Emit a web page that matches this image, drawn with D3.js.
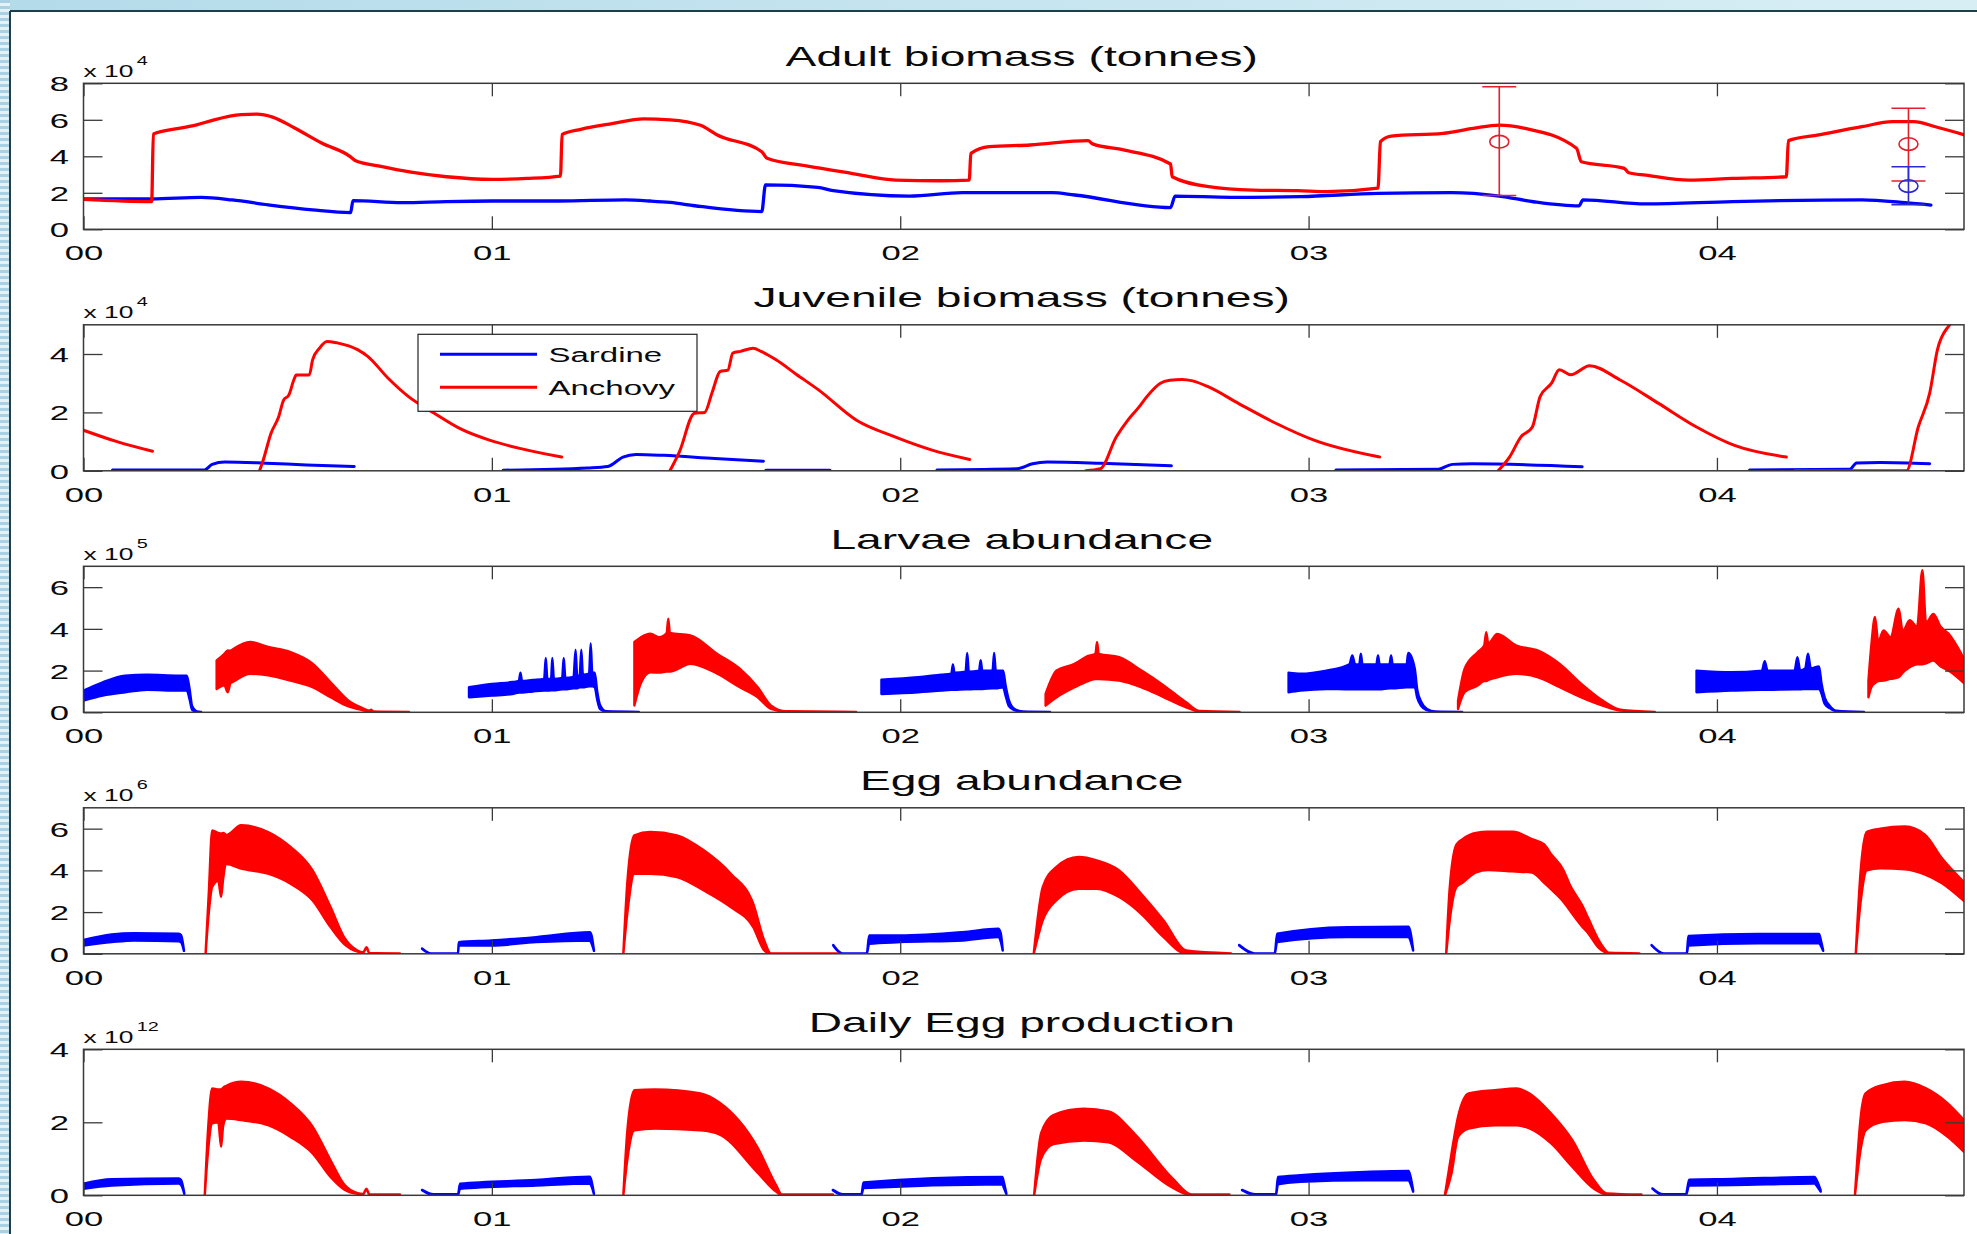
<!DOCTYPE html>
<html><head><meta charset="utf-8">
<script src="https://cdn.jsdelivr.net/npm/d3@7"></script>
<style>
html,body{margin:0;padding:0;background:#fff;overflow:hidden;}
svg{display:block;}
text{font-family:"Liberation Sans",Arial,Helvetica,sans-serif;fill:#0a0a0a;}
.tick text{font-size:21px;}
.title{font-size:28px;}
.expo{font-size:16px;}
.legend text{font-size:20px;}
</style></head><body>
<svg id="chart" width="1977" height="1234"></svg>
<script>
// ---------------- DATA ----------------
const xTickValues = [0, 1, 2, 3, 4];
const xTickLabels = ["00", "01", "02", "03", "04"];
const panelTitles = ["Adult biomass (tonnes)", "Juvenile biomass (tonnes)", "Larvae abundance", "Egg abundance", "Daily Egg production"];
const panelYMax = [8, 5, 7, 7, 4];
const panelYTicks = [[0, 2, 4, 6, 8], [0, 2, 4], [0, 2, 4, 6], [0, 2, 4, 6], [0, 2, 4]];
const panelExponents = ["4", "4", "5", "6", "12"];
const seriesNames = ["Sardine", "Anchovy"];

// Adult biomass (x 10^4 tonnes): [year, value]
const adultSardine = [[0,1.66],[0.167,1.66],[0.288,1.75],[0.364,1.61],[0.452,1.34],[0.561,1.06],[0.654,0.91],[0.66,1.57],[0.78,1.46],[0.889,1.52],[1.0,1.55],[1.163,1.55],[1.327,1.61],[1.388,1.55],[1.437,1.47],[1.497,1.29],[1.661,0.97],[1.67,2.43],[1.798,2.3],[1.836,2.12],[2.022,1.82],[2.153,2.01],[2.372,2.01],[2.427,1.88],[2.662,1.19],[2.673,1.82],[2.809,1.75],[2.98,1.79],[3.17,1.97],[3.35,2.01],[3.467,1.82],[3.551,1.51],[3.662,1.28],[3.672,1.61],[3.826,1.39],[4.038,1.52],[4.355,1.61],[4.461,1.46],[4.524,1.33]];
const adultAnchovy = [[0,1.64],[0.167,1.52],[0.171,5.22],[0.233,5.53],[0.277,5.72],[0.32,6.0],[0.386,6.28],[0.425,6.31],[0.463,6.15],[0.517,5.55],[0.583,4.73],[0.654,3.97],[0.665,3.77],[0.725,3.46],[0.802,3.13],[0.889,2.88],[1.0,2.74],[1.086,2.79],[1.168,2.92],[1.172,5.2],[1.218,5.48],[1.294,5.79],[1.371,6.05],[1.436,6.0],[1.511,5.7],[1.552,5.17],[1.661,4.25],[1.674,3.89],[1.77,3.47],[1.88,3.07],[1.989,2.7],[2.098,2.66],[2.169,2.7],[2.173,4.16],[2.218,4.53],[2.318,4.62],[2.46,4.86],[2.471,4.68],[2.547,4.35],[2.662,3.58],[2.666,2.88],[2.755,2.34],[2.864,2.15],[2.973,2.12],[3.044,2.06],[3.17,2.25],[3.176,4.8],[3.202,5.11],[3.329,5.26],[3.403,5.53],[3.467,5.71],[3.53,5.53],[3.656,4.44],[3.668,3.7],[3.773,3.34],[3.784,3.1],[3.826,2.97],[3.932,2.7],[4.038,2.79],[4.17,2.88],[4.175,4.86],[4.249,5.17],[4.355,5.62],[4.429,5.9],[4.482,5.9],[4.535,5.62],[4.607,5.17]];

// Survey estimates with error bars (adult panel)
const errorBarYears = [3.467, 4.469, 4.469];
const errorBarSpecies = ["Anchovy", "Anchovy", "Sardine"];
const errorBarMid = [4.8, 4.67, 2.37];
const errorBarLow = [1.85, 2.65, 1.35];
const errorBarHigh = [7.81, 6.63, 3.43];

// Juvenile biomass (x 10^4 tonnes): segments of [year, value]
const juvSardine = [
  [[0.071,0.03],[0.296,0.03],[0.315,0.22],[0.346,0.3],[0.446,0.26],[0.546,0.2],[0.663,0.15]],
  [[1.0275,0.02],[1.234,0.1],[1.284,0.15],[1.321,0.47],[1.353,0.56],[1.421,0.53],[1.546,0.42],[1.665,0.33]],
  [[1.671,0.02],[1.828,0.02]],
  [[2.09,0.03],[2.286,0.07],[2.324,0.24],[2.36,0.3],[2.49,0.26],[2.664,0.17]],
  [[3.067,0.03],[3.315,0.05],[3.352,0.22],[3.4,0.24],[3.67,0.14]],
  [[4.08,0.03],[4.325,0.05],[4.342,0.27],[4.4,0.28],[4.521,0.24]]
];
const juvAnchovy = [
  [[0,1.39],[0.084,0.99],[0.169,0.67]],
  [[0.431,0],[0.44,0.36],[0.459,1.28],[0.478,1.85],[0.49,2.42],[0.503,2.6],[0.515,3.11],[0.521,3.28],[0.553,3.28],[0.561,3.8],[0.578,4.2],[0.596,4.43],[0.621,4.38],[0.671,4.15],[0.696,3.92],[0.746,3.17],[0.796,2.54],[0.859,1.97],[0.921,1.45],[0.996,1.04],[1.071,0.76],[1.171,0.47]],
  [[1.436,0],[1.459,0.64],[1.496,1.97],[1.521,2.0],[1.54,2.71],[1.559,3.4],[1.578,3.45],[1.59,4.03],[1.609,4.09],[1.64,4.2],[1.659,4.09],[1.696,3.8],[1.746,3.3],[1.8,2.77],[1.893,1.73],[1.987,1.16],[2.08,0.7],[2.17,0.39]],
  [[2.454,0],[2.49,0.07],[2.529,1.16],[2.557,1.73],[2.585,2.19],[2.604,2.54],[2.637,3.0],[2.66,3.1],[2.69,3.13],[2.716,3.08],[2.754,2.88],[2.828,2.31],[2.921,1.62],[3.015,1.04],[3.174,0.47]],
  [[3.464,0],[3.492,0.47],[3.52,1.16],[3.548,1.5],[3.567,2.54],[3.595,3.0],[3.614,3.46],[3.642,3.29],[3.688,3.6],[3.763,3.11],[3.857,2.31],[3.95,1.5],[4.043,0.87],[4.17,0.47]],
  [[4.19,0],[4.464,0],[4.493,1.5],[4.521,2.66],[4.54,4.15],[4.567,4.95],[4.59,5.2]]
];

// Larvae abundance (x 10^5): segments of [year, low, high]
const larvaeSardine = [
  [[0,0.56,1.04],[0.047,0.8,1.44],[0.102,0.96,1.76],[0.156,1.08,1.8],[0.233,1.04,1.76],[0.253,1.04,1.76],[0.26,0.6,1.1],[0.266,0.12,0.3],[0.276,0.03,0.06],[0.288,0,0.02]],
  [[0.944,0.72,1.2],[1.0,0.8,1.36],[1.05,0.88,1.45],[1.066,0.95,1.5],[1.07,0.95,1.9],[1.074,0.95,1.5],[1.1,1.0,1.55],[1.128,1.04,1.6],[1.132,1.04,2.6],[1.136,1.04,1.6],[1.145,1.05,1.6],[1.148,1.05,2.6],[1.152,1.05,1.6],[1.172,1.1,1.65],[1.176,1.1,2.6],[1.18,1.1,1.65],[1.2,1.15,1.7],[1.205,1.15,3.0],[1.209,1.15,1.75],[1.215,1.2,1.75],[1.219,1.2,3.0],[1.223,1.2,1.8],[1.238,1.25,1.85],[1.242,1.25,3.3],[1.246,1.25,1.9],[1.252,1.2,1.9],[1.258,0.6,1.0],[1.265,0.15,0.35],[1.28,0.03,0.05],[1.36,0,0.02]],
  [[1.954,0.88,1.56],[2.044,0.96,1.68],[2.1,1.04,1.8],[2.125,1.08,1.85],[2.129,1.08,2.3],[2.133,1.08,1.9],[2.16,1.1,1.95],[2.164,1.1,2.84],[2.168,1.1,1.95],[2.193,1.12,2.0],[2.197,1.12,2.5],[2.201,1.12,2.0],[2.226,1.15,2.0],[2.23,1.15,2.84],[2.234,1.15,2.0],[2.252,1.2,2.0],[2.258,0.8,1.3],[2.266,0.3,0.6],[2.28,0.1,0.16],[2.3,0.02,0.04],[2.367,0,0.02]],
  [[2.951,0.96,1.9],[2.98,1.04,1.85],[3.044,1.12,2.0],[3.1,1.1,2.3],[3.107,1.1,2.73],[3.114,1.1,2.3],[3.124,1.1,2.3],[3.128,1.1,2.81],[3.132,1.1,2.3],[3.166,1.1,2.3],[3.17,1.1,2.73],[3.174,1.1,2.3],[3.198,1.15,2.3],[3.202,1.15,2.73],[3.206,1.15,2.3],[3.24,1.2,2.3],[3.244,1.2,2.84],[3.26,1.2,2.1],[3.266,0.7,1.1],[3.276,0.3,0.5],[3.29,0.1,0.16],[3.31,0.02,0.04],[3.376,0,0.02]],
  [[3.95,0.96,2.0],[4.035,1.04,1.92],[4.11,1.08,2.0],[4.117,1.08,2.45],[4.124,1.08,2.0],[4.19,1.1,2.0],[4.197,1.1,2.64],[4.204,1.1,2.0],[4.216,1.12,2.1],[4.223,1.12,2.81],[4.23,1.12,2.1],[4.25,1.12,2.2],[4.256,0.9,1.4],[4.264,0.4,0.7],[4.276,0.2,0.32],[4.292,0.05,0.08],[4.36,0,0.02]]
];
const larvaeAnchovy = [
  [[0.326,1.12,2.49],[0.345,1.3,2.8],[0.353,0.96,2.97],[0.36,1.4,2.95],[0.364,1.44,3.0],[0.408,1.85,3.37],[0.452,1.77,3.13],[0.507,1.52,2.88],[0.561,1.2,2.33],[0.605,0.72,1.44],[0.649,0.28,0.56],[0.682,0.11,0.21],[0.7,0.04,0.08],[0.704,0.08,0.12],[0.71,0.03,0.04],[0.797,0,0.02]],
  [[1.349,0.33,3.37],[1.365,1.4,3.6],[1.388,1.92,3.77],[1.41,1.9,3.6],[1.428,1.95,3.8],[1.432,1.95,4.49],[1.436,1.95,3.8],[1.486,2.33,3.69],[1.552,1.85,2.8],[1.607,1.2,2.09],[1.651,0.72,1.2],[1.684,0.16,0.32],[1.72,0.03,0.05],[1.892,0,0.02]],
  [[2.356,0.32,0.88],[2.383,0.72,2.0],[2.427,1.2,2.32],[2.46,1.5,2.7],[2.478,1.6,2.8],[2.482,1.6,3.37],[2.486,1.6,2.8],[2.536,1.52,2.64],[2.591,1.2,2.0],[2.646,0.72,1.28],[2.7,0.24,0.48],[2.733,0.03,0.06],[2.831,0,0.02]],
  [[3.366,0.16,0.56],[3.382,0.96,2.08],[3.414,1.28,2.88],[3.43,1.5,3.2],[3.435,1.5,3.84],[3.44,1.55,3.3],[3.462,1.68,3.76],[3.509,1.84,3.2],[3.562,1.68,2.96],[3.615,1.2,2.32],[3.668,0.72,1.36],[3.72,0.32,0.56],[3.763,0.08,0.12],[3.848,0,0.02]],
  [[4.371,0.72,1.52],[4.378,1.2,3.2],[4.387,1.4,4.57],[4.395,1.5,3.4],[4.408,1.52,3.93],[4.425,1.6,3.6],[4.445,1.68,4.97],[4.455,1.9,3.9],[4.472,2.16,4.41],[4.49,2.3,4.1],[4.503,2.3,6.81],[4.512,2.35,4.3],[4.53,2.48,4.72],[4.548,2.2,4.1],[4.567,2.0,3.77],[4.607,1.36,2.49]]
];

// Egg abundance (x 10^6): segments of [year, low, high]
const eggSardine = [
  [[0,0.4,0.67],[0.069,0.56,0.93],[0.124,0.64,0.99],[0.233,0.6,0.96],[0.239,0.55,0.9],[0.246,0.14,0.18]],
  [[0.829,0.24,0.26],[0.851,0,0.02],[0.917,0,0.02],[0.919,0.4,0.56],[0.999,0.4,0.64],[1.108,0.56,0.8],[1.24,0.64,1.04],[1.244,0.5,0.9],[1.25,0.14,0.18]],
  [[1.836,0.4,0.42],[1.858,0,0.02],[1.918,0,0.02],[1.924,0.48,0.88],[2.0,0.56,0.88],[2.153,0.64,1.04],[2.24,0.8,1.2],[2.246,0.6,1.0],[2.251,0.16,0.2]],
  [[2.83,0.4,0.42],[2.868,0,0.02],[2.917,0,0.02],[2.923,0.56,0.96],[3.095,0.8,1.28],[3.245,0.8,1.3],[3.25,0.6,1.0],[3.256,0.16,0.2]],
  [[3.84,0.4,0.42],[3.87,0,0.02],[3.926,0,0.02],[3.93,0.4,0.85],[4.1,0.5,0.95],[4.25,0.5,0.95],[4.254,0.4,0.7],[4.26,0.14,0.18]]
];
const eggAnchovy = [
  [[0.299,0,0.02],[0.307,2.0,3.0],[0.315,3.2,5.92],[0.33,3.5,5.8],[0.337,2.72,5.76],[0.342,3.6,5.8],[0.35,4.3,5.7],[0.386,4.08,6.16],[0.452,3.84,5.84],[0.507,3.36,5.12],[0.561,2.56,4.0],[0.605,1.28,2.24],[0.638,0.48,0.8],[0.671,0.1,0.16],[0.685,0.05,0.08],[0.693,0.28,0.32],[0.7,0.02,0.04],[0.775,0,0.02]],
  [[1.322,0,0.02],[1.332,2.0,3.5],[1.349,3.84,5.68],[1.388,3.84,5.84],[1.453,3.68,5.68],[1.519,3.04,4.96],[1.585,2.24,3.84],[1.64,1.28,2.4],[1.667,0.16,0.64],[1.683,0,0.02],[1.847,0,0.02]],
  [[2.327,0,0.02],[2.349,1.6,3.2],[2.382,2.56,4.16],[2.437,3.12,4.64],[2.481,3.12,4.48],[2.536,2.72,4.0],[2.59,1.92,2.88],[2.645,0.8,1.6],[2.7,0,0.16],[2.81,0,0.02]],
  [[3.337,0,0.02],[3.345,1.5,3.0],[3.362,3.2,5.24],[3.377,3.41,5.5],[3.41,3.9,5.8],[3.439,4.02,5.85],[3.5,3.95,5.85],[3.547,3.9,5.5],[3.577,3.4,5.24],[3.593,3.11,4.8],[3.624,2.5,4.02],[3.64,2.07,3.3],[3.67,1.3,2.32],[3.685,0.98,1.7],[3.71,0.3,0.67],[3.722,0.12,0.3],[3.735,0,0.05],[3.81,0,0.02]],
  [[4.34,0,0.02],[4.352,2.5,4.0],[4.367,4.0,5.85],[4.4,4.1,6.0],[4.46,4.05,6.1],[4.51,3.8,5.7],[4.55,3.4,4.6],[4.607,2.5,3.4]]
];

// Daily egg production (x 10^12): segments of [year, low, high]
const dailySardine = [
  [[0,0.18,0.32],[0.069,0.27,0.44],[0.233,0.32,0.46],[0.239,0.28,0.42],[0.247,0.03,0.05]],
  [[0.829,0.14,0.15],[0.857,0,0.03],[0.917,0,0.03],[0.922,0.18,0.32],[1.108,0.27,0.42],[1.24,0.32,0.51],[1.244,0.25,0.4],[1.25,0.03,0.05]],
  [[1.835,0.14,0.15],[1.86,0,0.03],[1.905,0,0.03],[1.91,0.2,0.35],[2.25,0.3,0.5],[2.254,0.2,0.35],[2.26,0.03,0.05]],
  [[2.837,0.14,0.15],[2.87,0,0.03],[2.92,0,0.03],[2.925,0.3,0.5],[2.98,0.37,0.55],[3.139,0.41,0.64],[3.245,0.41,0.67],[3.25,0.3,0.5],[3.256,0.1,0.14]],
  [[3.842,0.18,0.19],[3.868,0,0.03],[3.924,0,0.03],[3.932,0.27,0.43],[4.038,0.28,0.45],[4.239,0.32,0.5],[4.245,0.25,0.4],[4.254,0.1,0.14]]
];
const dailyAnchovy = [
  [[0.297,0,0.02],[0.305,1.2,1.8],[0.315,1.97,2.93],[0.33,2.0,2.9],[0.337,1.33,2.9],[0.342,1.9,2.95],[0.35,2.1,3.0],[0.386,2.06,3.11],[0.452,1.92,2.93],[0.507,1.6,2.52],[0.561,1.15,1.88],[0.605,0.5,0.96],[0.638,0.16,0.3],[0.671,0.04,0.06],[0.685,0.03,0.04],[0.693,0.16,0.18],[0.7,0.01,0.03],[0.775,0,0.02]],
  [[1.322,0,0.02],[1.332,1.0,1.8],[1.349,1.78,2.88],[1.4,1.83,2.9],[1.511,1.78,2.79],[1.557,1.67,2.54],[1.65,0.63,1.32],[1.696,0.1,0.28],[1.71,0,0.02],[1.835,0,0.02]],
  [[2.328,0,0.02],[2.345,1.0,1.7],[2.375,1.4,2.2],[2.45,1.5,2.37],[2.51,1.45,2.3],[2.575,0.97,1.67],[2.668,0.2,0.45],[2.714,0,0.02],[2.806,0,0.02]],
  [[3.334,0,0.02],[3.35,0.6,1.15],[3.366,1.6,2.15],[3.392,1.83,2.79],[3.456,1.92,2.88],[3.509,1.92,2.93],[3.541,1.83,2.79],[3.594,1.42,2.24],[3.646,0.78,1.51],[3.699,0.18,0.41],[3.73,0.02,0.05],[3.815,0,0.02]],
  [[4.338,0,0.02],[4.353,1.33,2.24],[4.364,1.78,2.79],[4.406,2.01,3.02],[4.459,2.06,3.11],[4.512,1.97,2.93],[4.565,1.6,2.52],[4.605,1.19,2.06]]
];

// ---------------- DRAWING ----------------
const COLORS = { Sardine: "#0000ff", Anchovy: "#ff0000" };
const SX = 1.65;               // horizontal stretch of the original figure's text
const W = 1977, H = 1234;
const plotLeft = 83.5, plotRight = 1964;
const panelTop0 = 83.3, panelStep = 241.5, panelH = 146;

const svg = d3.select("#chart");
const defs = svg.append("defs");

// slide background
const g1 = defs.append("linearGradient").attr("id", "topGrad").attr("x1", 0).attr("x2", 1).attr("y1", 0).attr("y2", 0);
g1.append("stop").attr("offset", "0%").attr("stop-color", "#b4dbea");
g1.append("stop").attr("offset", "100%").attr("stop-color", "#d8eef5");
const pat = defs.append("pattern").attr("id", "stripes").attr("width", 10).attr("height", 6).attr("patternUnits", "userSpaceOnUse");
pat.append("rect").attr("width", 10).attr("height", 6).attr("fill", "#e4f2f8");
pat.append("rect").attr("width", 10).attr("height", 3).attr("fill", "#a8d2e4");

svg.append("rect").attr("width", W).attr("height", H).attr("fill", "#ffffff");
svg.append("rect").attr("x", 0).attr("y", 0).attr("width", W).attr("height", 11).attr("fill", "url(#topGrad)");
svg.append("rect").attr("x", 0).attr("y", 0).attr("width", 10).attr("height", H).attr("fill", "url(#stripes)");
svg.append("line").attr("x1", 10).attr("x2", W).attr("y1", 11).attr("y2", 11).attr("stroke", "#1d3f4a").attr("stroke-width", 2);
svg.append("line").attr("x1", 10).attr("x2", 10).attr("y1", 11).attr("y2", H).attr("stroke", "#1d3f4a").attr("stroke-width", 2);

const x = d3.scaleLinear().domain([0, 4.605]).range([plotLeft, plotRight]);

function addStretchedText(parent, tx, ty, str, cls, anchor) {
  return parent.append("text").attr("class", cls).attr("text-anchor", anchor)
    .attr("transform", `translate(${tx},${ty}) scale(${SX},1)`).text(str);
}

function drawLines(plot, y, segs, color, width) {
  const line = d3.line().x(d => x(d[0])).y(d => y(d[1])).curve(d3.curveMonotoneX);
  plot.append("g").selectAll("path").data(segs).join("path")
    .attr("d", line).attr("fill", "none").attr("stroke", color)
    .attr("stroke-width", width).attr("stroke-linejoin", "round").attr("stroke-linecap", "round");
}
function drawBands(plot, y, segs, color) {
  const area = d3.area().x(d => x(d[0])).y0(d => y(d[1])).y1(d => y(d[2])).curve(d3.curveMonotoneX);
  plot.append("g").selectAll("path").data(segs).join("path")
    .attr("d", area).attr("fill", color).attr("stroke", color)
    .attr("stroke-width", 2.4).attr("stroke-linejoin", "round");
}

const panelDrawers = [
  (plot, y) => {
    drawLines(plot, y, [adultSardine], COLORS.Sardine, 3.3);
    drawLines(plot, y, [adultAnchovy], COLORS.Anchovy, 3.3);
    const eb = plot.append("g");
    errorBarYears.forEach((t, i) => {
      const c = errorBarSpecies[i] === "Anchovy" ? "#e0202a" : "#2a2ad0";
      const cx = x(t);
      eb.append("line").attr("x1", cx).attr("x2", cx).attr("y1", y(errorBarLow[i])).attr("y2", y(errorBarHigh[i])).attr("stroke", c).attr("stroke-width", 1.6);
      [errorBarLow[i], errorBarHigh[i]].forEach(v => {
        eb.append("line").attr("x1", cx - 17).attr("x2", cx + 17).attr("y1", y(v)).attr("y2", y(v)).attr("stroke", c).attr("stroke-width", 1.6);
      });
      eb.append("ellipse").attr("cx", cx).attr("cy", y(errorBarMid[i])).attr("rx", 9.5).attr("ry", 6.3)
        .attr("fill", "none").attr("stroke", c).attr("stroke-width", 1.6);
    });
  },
  (plot, y) => {
    drawLines(plot, y, juvSardine, COLORS.Sardine, 3);
    drawLines(plot, y, juvAnchovy, COLORS.Anchovy, 3);
  },
  (plot, y) => { drawBands(plot, y, larvaeSardine, COLORS.Sardine); drawBands(plot, y, larvaeAnchovy, COLORS.Anchovy); },
  (plot, y) => { drawBands(plot, y, eggSardine, COLORS.Sardine); drawBands(plot, y, eggAnchovy, COLORS.Anchovy); },
  (plot, y) => { drawBands(plot, y, dailySardine, COLORS.Sardine); drawBands(plot, y, dailyAnchovy, COLORS.Anchovy); }
];

panelTitles.forEach((title, i) => {
  const top = panelTop0 + i * panelStep;
  const bottom = top + panelH;
  const y = d3.scaleLinear().domain([0, panelYMax[i]]).range([bottom, top]);
  const g = svg.append("g");

  defs.append("clipPath").attr("id", "clip" + i).append("rect")
    .attr("x", plotLeft).attr("y", top).attr("width", plotRight - plotLeft).attr("height", panelH);
  const plot = g.append("g").attr("clip-path", `url(#clip${i})`);
  panelDrawers[i](plot, y);

  const axisColor = "#3a3a3a";
  const gb = g.append("g").attr("transform", `translate(0,${bottom})`)
    .call(d3.axisBottom(x).tickValues(xTickValues).tickFormat((d, j) => xTickLabels[j]).tickSizeInner(-13).tickSizeOuter(0).tickPadding(16));
  const gt = g.append("g").attr("transform", `translate(0,${top})`)
    .call(d3.axisTop(x).tickValues(xTickValues).tickFormat("").tickSizeInner(-13).tickSizeOuter(0));
  const gl = g.append("g").attr("transform", `translate(${plotLeft},0)`)
    .call(d3.axisLeft(y).tickValues(panelYTicks[i]).tickFormat(d3.format("d")).tickSizeInner(-19).tickSizeOuter(0));
  const gr = g.append("g").attr("transform", `translate(${plotRight},0)`)
    .call(d3.axisRight(y).tickValues(panelYTicks[i]).tickFormat("").tickSizeInner(-19).tickSizeOuter(0));
  [gb, gt, gl, gr].forEach(a => {
    a.attr("font-family", null).attr("font-size", null).attr("color", axisColor);
    a.select(".domain").remove();
    a.selectAll(".tick line").attr("stroke-width", 1.3);
  });
  gb.selectAll("text").attr("transform", `scale(${SX},1)`);
  gl.selectAll("text").attr("x", -14.5 / SX).attr("dy", "0.36em").attr("transform", `scale(${SX},1)`);

  g.append("rect").attr("x", plotLeft).attr("y", top).attr("width", plotRight - plotLeft).attr("height", panelH)
    .attr("fill", "none").attr("stroke", axisColor).attr("stroke-width", 1.5);

  // title
  addStretchedText(g, (plotLeft + plotRight) / 2 - 2, top - 17.5, title, "title", "middle");
  // exponent label
  const ex = g.append("text").attr("class", "expo").attr("text-anchor", "start")
    .attr("transform", `translate(${plotLeft},${top - 6.5}) scale(${SX},1)`);
  ex.append("tspan").text("x 10");
  ex.append("tspan").attr("dx", 2).attr("dy", -12).attr("font-size", 12).text(panelExponents[i]);

  if (i === 1) {
    const lg = g.append("g").attr("class", "legend");
    lg.append("rect").attr("x", 418).attr("y", top + 9.5).attr("width", 279).attr("height", 77)
      .attr("fill", "#fff").attr("stroke", "#222").attr("stroke-width", 1.2);
    seriesNames.forEach((name, k) => {
      const ly = top + 29.5 + k * 33;
      lg.append("line").attr("x1", 440).attr("x2", 537).attr("y1", ly).attr("y2", ly)
        .attr("stroke", COLORS[name]).attr("stroke-width", 3);
      addStretchedText(lg, 548.5, ly + 7.5, name, "", "start");
    });
  }
});
</script>
</body></html>
